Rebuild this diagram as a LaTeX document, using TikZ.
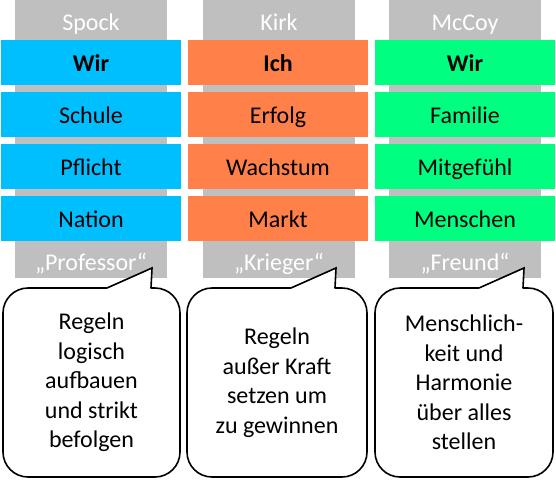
\documentclass[tikz,border=0pt]{standalone}
\usepackage{fontspec}
\setmainfont{Carlito}
\usetikzlibrary{calc}
\definecolor{greycol}{RGB}{191,191,191}
\definecolor{spockblue}{RGB}{0,191,255}
\definecolor{kirkorange}{RGB}{255,128,72}
\definecolor{mccoygreen}{RGB}{0,255,128}
\newcommand\bubbletail[1]{%
  \fill[white] ($(#1.north west)+(104,1.2)$) -- ($(#1.north west)+(104,0)$) -- ($(#1.north west)+(149,-20)$) -- ($(#1.north west)+(148,0)$) -- ($(#1.north west)+(148,1.2)$) -- cycle;
  \draw[tailline] ($(#1.north west)+(104,0)$) -- ($(#1.north west)+(149,-20)$) -- ($(#1.north west)+(148,0)$);}
\begin{document}
\begin{tikzpicture}[x=1pt,y=-1pt,
  column/.style={fill=greycol, minimum width=152pt, minimum height=278pt, inner sep=0pt, outer sep=0pt, anchor=north},
  headtxt/.style={text=white, anchor=base, inner sep=0pt, font=\fontsize{24}{29}\selectfont},
  valbox/.style={minimum width=180pt, minimum height=45pt, inner sep=0pt, outer sep=0pt, anchor=north west, text depth=0pt, text height=17pt, font=\fontsize{24}{29}\selectfont},
  bubble/.style={draw=black, fill=white, line width=1.6pt, rounded corners=25pt, minimum height=189pt, inner sep=0pt, outer sep=0pt, align=center, anchor=north west, font=\fontsize{24}{29.5}\selectfont},
  tailline/.style={draw=black, line width=1.6pt, line join=miter, line cap=round}]
\useasboundingbox (0,0) rectangle (556,480);
% grey columns
\node[column] (spockcol) at (91,0) {};
\node[column] (kirkcol) at (279,0) {};
\node[column] (mccoycol) at (465,0) {};
\node[headtxt] (spockname) at (91,30) {Spock};
\node[headtxt] (kirkname) at (279,30) {Kirk};
\node[headtxt] (mccoyname) at (465,30) {McCoy};
\node[headtxt] (spockrole) at (91,270) {„Professor“};
\node[headtxt] (kirkrole) at (279,270) {„Krieger“};
\node[headtxt] (mccoyrole) at (465,270) {„Freund“};
% Spock
\node[valbox, fill=spockblue] (s1) at (1,40) {\bfseries Wir};
\node[valbox, fill=spockblue] (s2) at (1,92) {Schule};
\node[valbox, fill=spockblue] (s3) at (1,144) {Pflicht};
\node[valbox, fill=spockblue] (s4) at (1,196) {Nation};
% Kirk
\node[valbox, fill=kirkorange] (k1) at (188,40) {\bfseries Ich};
\node[valbox, fill=kirkorange] (k2) at (188,92) {Erfolg};
\node[valbox, fill=kirkorange] (k3) at (188,144) {Wachstum};
\node[valbox, fill=kirkorange] (k4) at (188,196) {Markt};
% McCoy
\node[valbox, fill=mccoygreen] (m1) at (375,40) {\bfseries Wir};
\node[valbox, fill=mccoygreen] (m2) at (375,92) {Familie};
\node[valbox, fill=mccoygreen] (m3) at (375,144) {Mitgefühl};
\node[valbox, fill=mccoygreen] (m4) at (375,196) {Menschen};
% bubbles
\node[bubble, minimum width=177pt] (spockbubble) at (3,288) {Regeln\\logisch\\aufbauen\\und strikt\\befolgen};
\node[bubble, minimum width=180pt] (kirkbubble) at (187,288) {Regeln\\außer Kraft\\setzen um\\zu gewinnen};
\node[bubble, minimum width=178pt] (mccoybubble) at (375,288) {Menschlich-\\keit und\\Harmonie\\über alles\\stellen};
\bubbletail{spockbubble}
\bubbletail{kirkbubble}
\bubbletail{mccoybubble}
\end{tikzpicture}
\end{document}
